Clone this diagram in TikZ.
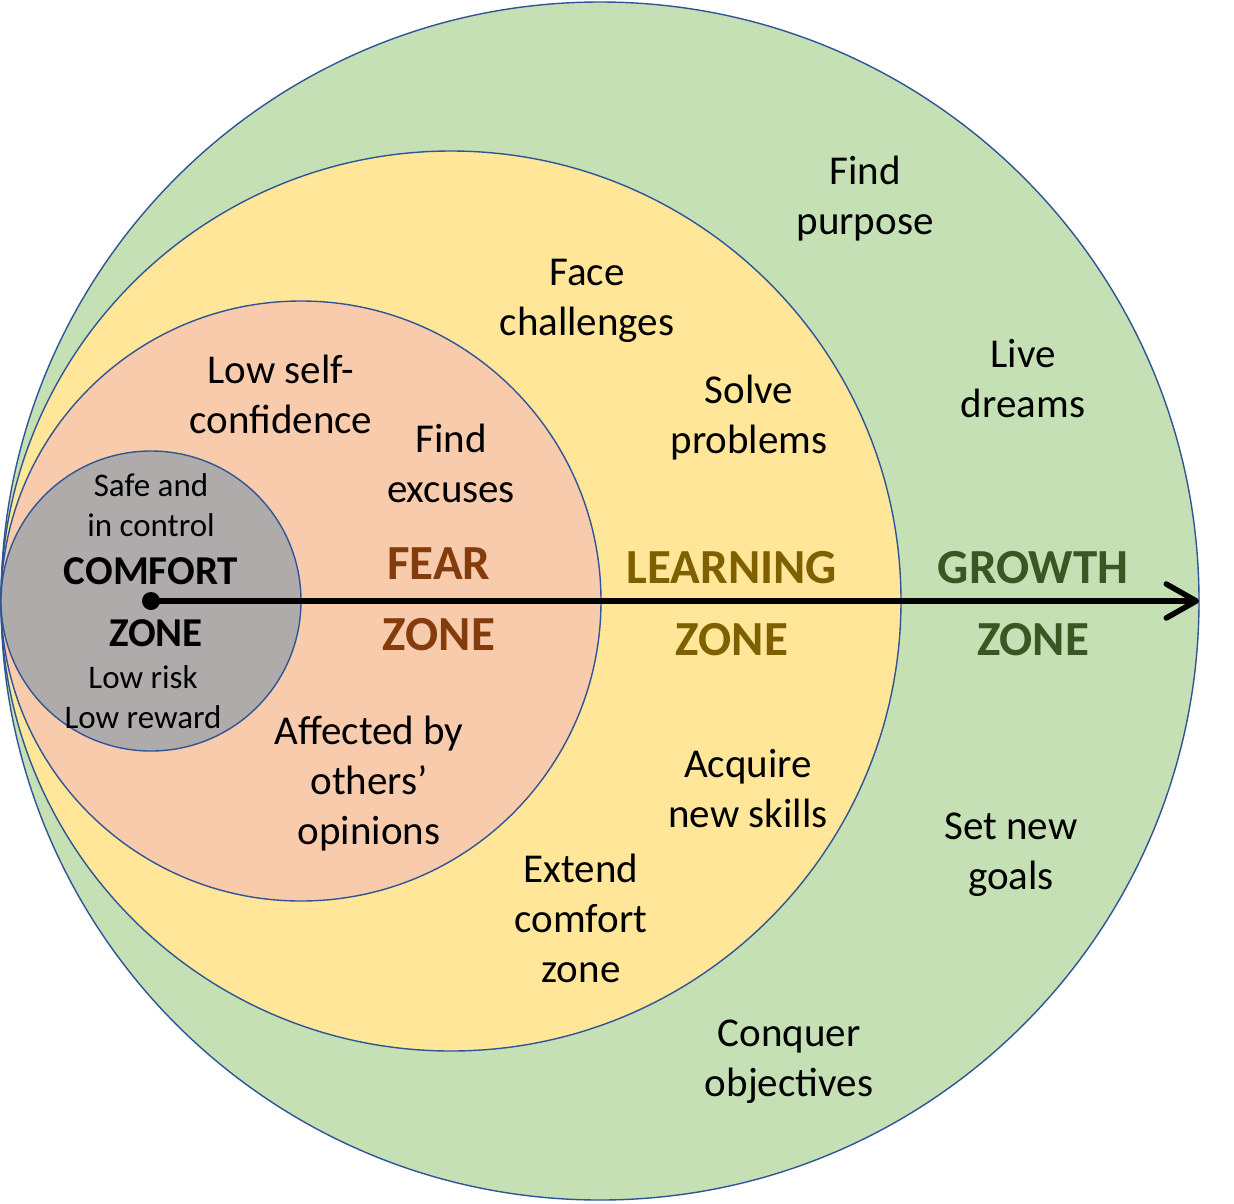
\documentclass[tikz,border=0pt]{standalone}
\usepackage{fontspec}
\setmainfont{Carlito}
\usetikzlibrary{arrows.meta}
\definecolor{gfill}{HTML}{C5E0B4}
\definecolor{yfill}{HTML}{FFE699}
\definecolor{pfill}{HTML}{F8CBAD}
\definecolor{cfill}{HTML}{AFABAB}
\definecolor{edge}{HTML}{2F5597}
\definecolor{gtext}{HTML}{385723}
\definecolor{ytext}{HTML}{7F6000}
\definecolor{ptext}{HTML}{843C0C}
\begin{document}
\begin{tikzpicture}[x=1pt,y=-1pt,
  zone/.style={draw=edge,line width=1.4pt},
  txt/.style={align=center,inner sep=0pt,font=\fontsize{41}{50}\selectfont},
  small/.style={align=center,inner sep=0pt,font=\fontsize{33}{40}\selectfont},
  big/.style={inner sep=0pt,font=\fontsize{49}{59}\selectfont\bfseries},
  mid/.style={inner sep=0pt,font=\fontsize{41}{50}\selectfont\bfseries}]
\useasboundingbox (0,0) rectangle (1234,1203);
\fill[white] (0,0) rectangle (1234,1203);
\path[zone,fill=gfill] (600,601) circle[radius=599];
\path[zone,fill=yfill] (451,601) circle[radius=450];
\path[zone,fill=pfill] (301,601) circle[radius=300];
\path[zone,fill=cfill] (151,601) circle[radius=150];
% texts
\node[txt] (t1) at (865,199) {Find\\purpose};
\node[txt] (t2) at (587,301) {Face\\challenges};
\node[txt] (t3) at (1023,379) {Live\\dreams};
\node[txt] (t4) at (281,394) {Low self-\\confidence};
\node[txt] (t5) at (749,418) {Solve\\problems};
\node[txt] (t6) at (451,463) {Find\\excuses};
\node[small] (t7) at (151,505) {Safe and\\in control};
\node[small] (t8) at (143,697) {Low risk\\Low reward};
\node[txt] (t9) at (369,784) {Affected by\\others’\\opinions};
\node[txt] (t10) at (748,789) {Acquire\\new skills};
\node[txt] (t11) at (1011,855) {Set new\\goals};
\node[txt] (t12) at (581,918) {Extend\\comfort\\zone};
\node[txt] (t13) at (789,1062) {Conquer\\objectives};
% zone labels
\node[mid] (c1) at (151,571) {COMFORT};
\node[mid] (c2) at (156,633) {ZONE};
\node[big,text=ptext] (f1) at (439,564) {FEAR};
\node[big,text=ptext] (f2) at (439,635) {ZONE};
\node[big,text=ytext] (l1) at (732,568) {LEARNING};
\node[big,text=ytext] (l2) at (732,640) {ZONE};
\node[big,text=gtext] (g1) at (1033,568) {GROWTH};
\node[big,text=gtext] (g2) at (1033,640) {ZONE};
% arrow
\node[circle,fill=black,inner sep=0pt,minimum size=18pt] (dot) at (151,601) {};
\coordinate (tip) at (1199,601);
\draw[line width=5.5pt,-{Straight Barb[length=30pt,width=34pt,round]}] (dot.center) -- (tip);
\end{tikzpicture}
\end{document}
